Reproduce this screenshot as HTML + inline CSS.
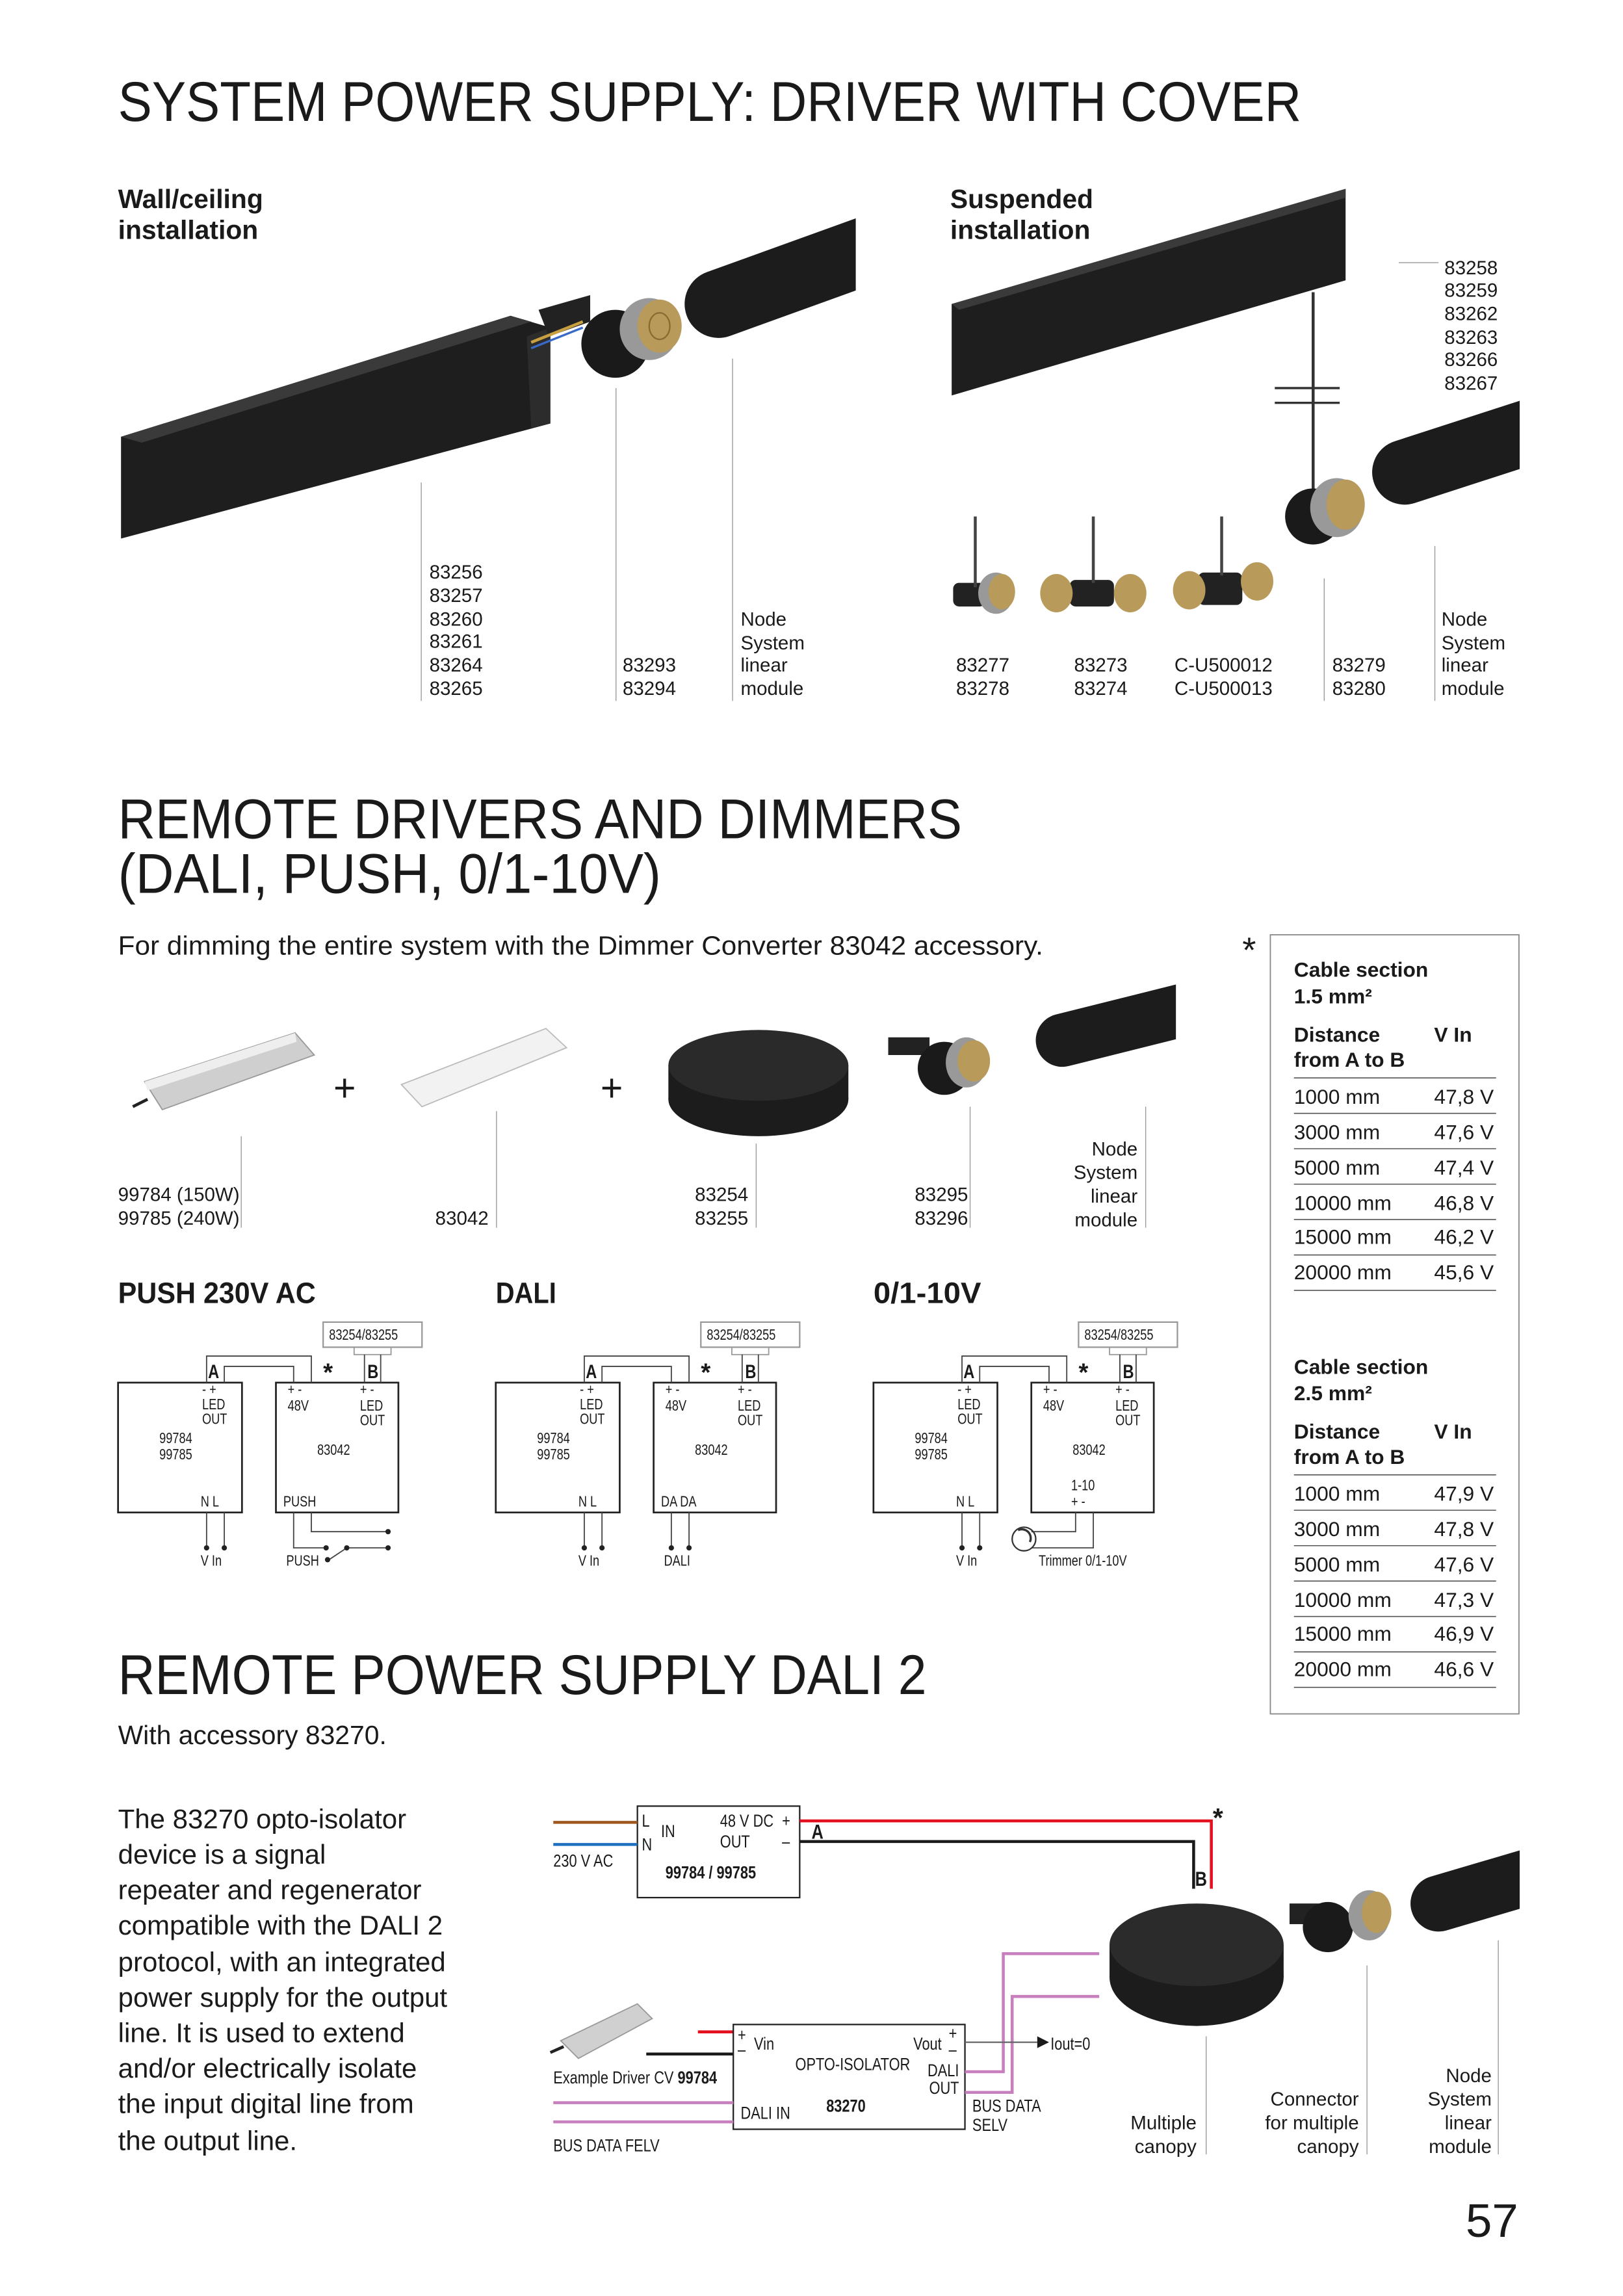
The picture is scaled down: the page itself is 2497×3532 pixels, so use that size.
<!DOCTYPE html>
<html><head><meta charset="utf-8"><style>
html,body{margin:0;padding:0;background:#fff;}
svg{display:block;}
text{font-family:"Liberation Sans",sans-serif;fill:#1a1a1a;}
.n text, text.n{transform-box:fill-box;transform-origin:0 0;transform:scaleX(.8);}
.n text.ne{transform-origin:100% 0;}
</style></head><body>
<svg width="2497" height="3532" viewBox="0 0 1100 1556" xmlns="http://www.w3.org/2000/svg">
<defs>
<clipPath id="c1"><rect x="0" y="0" width="580" height="600"/></clipPath>
<clipPath id="c2"><rect x="0" y="0" width="1030" height="600"/></clipPath>
<clipPath id="c3"><rect x="0" y="600" width="797" height="200"/></clipPath>
<clipPath id="c4"><rect x="0" y="1200" width="1030" height="200"/></clipPath>
</defs>

<!-- Section 1 -->
<text x="80" y="82" font-size="38" textLength="802" lengthAdjust="spacingAndGlyphs">SYSTEM POWER SUPPLY: DRIVER WITH COVER</text>
<text x="80" y="141" font-size="18" font-weight="bold">Wall/ceiling</text>
<text x="80" y="162" font-size="18" font-weight="bold">installation</text>
<text x="644" y="141" font-size="18" font-weight="bold">Suspended</text>
<text x="644" y="162" font-size="18" font-weight="bold">installation</text>

<!-- left beam -->
<polygon points="82,296 346,214 373,222 373,287 82,365" fill="#1e1e1e"/>
<polygon points="82,296 346,214 360,218 96,300" fill="#3a3a3a"/>
<polygon points="357,228 373,222 373,287 360,290" fill="#2c2c2c"/>
<polygon points="365,210 400,200 400,218 372,228" fill="#222"/>
<path d="M360,232 L395,218" stroke="#c8a040" stroke-width="2"/>
<path d="M360,236 L395,222" stroke="#3a6ac8" stroke-width="1.5"/>
<circle cx="417" cy="233" r="23" fill="#1a1a1a"/>
<ellipse cx="440" cy="223" rx="20" ry="21" fill="#999"/>
<ellipse cx="447" cy="221" rx="15" ry="18" fill="#b89a5a"/>
<ellipse cx="447" cy="221" rx="7" ry="9" fill="none" stroke="#8a6a30" stroke-width="1"/>
<g clip-path="url(#c1)"><line x1="487" y1="206" x2="620" y2="158" stroke="#1c1c1c" stroke-width="46" stroke-linecap="round"/></g>
<line x1="285.5" y1="327" x2="285.5" y2="475" stroke="#999" stroke-width="0.6"/>
<line x1="417.5" y1="263" x2="417.5" y2="475" stroke="#999" stroke-width="0.6"/>
<line x1="496.5" y1="243" x2="496.5" y2="475" stroke="#999" stroke-width="0.6"/>
<g font-size="13">
<text x="291" y="392">83256</text><text x="291" y="408">83257</text><text x="291" y="424">83260</text><text x="291" y="439">83261</text><text x="291" y="455">83264</text><text x="291" y="471">83265</text>
<text x="422" y="455">83293</text><text x="422" y="471">83294</text>
<text x="502" y="424">Node</text><text x="502" y="440">System</text><text x="502" y="455">linear</text><text x="502" y="471">module</text>
</g>

<!-- right beam -->
<polygon points="645,206 912,128 912,190 645,268" fill="#1e1e1e"/>
<polygon points="645,206 905,130 912,128 912,134 650,210" fill="#3a3a3a"/>
<line x1="890" y1="198" x2="890" y2="335" stroke="#333" stroke-width="2"/>
<line x1="864" y1="263" x2="908" y2="263" stroke="#333" stroke-width="1.5"/>
<line x1="864" y1="273" x2="908" y2="273" stroke="#333" stroke-width="1.5"/>
<circle cx="890" cy="350" r="19" fill="#1a1a1a"/>
<ellipse cx="906" cy="344" rx="18" ry="20" fill="#999"/>
<ellipse cx="912" cy="342" rx="13" ry="17" fill="#b89a5a"/>
<g clip-path="url(#c2)"><line x1="952" y1="320" x2="1060" y2="285" stroke="#1c1c1c" stroke-width="44" stroke-linecap="round"/></g>
<!-- small nodes -->
<g>
<rect x="646" y="395" width="22" height="16" rx="4" fill="#222"/>
<line x1="661" y1="350" x2="661" y2="398" stroke="#444" stroke-width="2"/>
<ellipse cx="675" cy="402" rx="12" ry="14" fill="#999"/><ellipse cx="679" cy="401" rx="9" ry="12" fill="#b89a5a"/>
<rect x="725" y="393" width="30" height="18" rx="4" fill="#222"/>
<line x1="741" y1="350" x2="741" y2="395" stroke="#444" stroke-width="2"/>
<ellipse cx="716" cy="402" rx="11" ry="13" fill="#b89a5a"/><ellipse cx="766" cy="402" rx="11" ry="13" fill="#b89a5a"/>
<rect x="812" y="388" width="30" height="22" rx="4" fill="#222"/>
<line x1="828" y1="350" x2="828" y2="390" stroke="#444" stroke-width="2"/>
<ellipse cx="806" cy="400" rx="11" ry="13" fill="#b89a5a"/><ellipse cx="852" cy="394" rx="11" ry="13" fill="#b89a5a"/>
</g>
<line x1="948" y1="178" x2="975" y2="178" stroke="#999" stroke-width="0.6"/>
<line x1="897.5" y1="392" x2="897.5" y2="475" stroke="#999" stroke-width="0.6"/>
<line x1="972.5" y1="370" x2="972.5" y2="475" stroke="#999" stroke-width="0.6"/>
<g font-size="13">
<text x="979" y="186">83258</text><text x="979" y="201">83259</text><text x="979" y="217">83262</text><text x="979" y="233">83263</text><text x="979" y="248">83266</text><text x="979" y="264">83267</text>
<text x="648" y="455">83277</text><text x="648" y="471">83278</text>
<text x="728" y="455">83273</text><text x="728" y="471">83274</text>
<text x="796" y="455">C-U500012</text><text x="796" y="471">C-U500013</text>
<text x="903" y="455">83279</text><text x="903" y="471">83280</text>
<text x="977" y="424">Node</text><text x="977" y="440">System</text><text x="977" y="455">linear</text><text x="977" y="471">module</text>
</g>

<!-- Section 2 -->
<text x="80" y="568" font-size="38" textLength="572" lengthAdjust="spacingAndGlyphs">REMOTE DRIVERS AND DIMMERS</text>
<text x="80" y="605" font-size="38" textLength="368" lengthAdjust="spacingAndGlyphs">(DALI, PUSH, 0/1-10V)</text>
<text x="80" y="647" font-size="18" textLength="627" lengthAdjust="spacingAndGlyphs">For dimming the entire system with the Dimmer Converter 83042 accessory.</text>
<text x="842" y="652" font-size="24">*</text>

<!-- table -->
<rect x="861" y="633.5" width="168.5" height="528" fill="none" stroke="#888" stroke-width="0.8"/>
<g font-size="14">
<text x="877" y="662" font-weight="bold">Cable section</text>
<text x="877" y="680" font-weight="bold">1.5 mm²</text>
<text x="877" y="706" font-weight="bold">Distance</text>
<text x="877" y="723" font-weight="bold">from A to B</text>
<text x="972" y="706" font-weight="bold">V In</text>
<text x="877" y="748">1000 mm</text><text x="972" y="748">47,8 V</text>
<text x="877" y="772">3000 mm</text><text x="972" y="772">47,6 V</text>
<text x="877" y="796">5000 mm</text><text x="972" y="796">47,4 V</text>
<text x="877" y="820">10000 mm</text><text x="972" y="820">46,8 V</text>
<text x="877" y="843">15000 mm</text><text x="972" y="843">46,2 V</text>
<text x="877" y="867">20000 mm</text><text x="972" y="867">45,6 V</text>
<text x="877" y="931" font-weight="bold">Cable section</text>
<text x="877" y="949" font-weight="bold">2.5 mm²</text>
<text x="877" y="975" font-weight="bold">Distance</text>
<text x="877" y="992" font-weight="bold">from A to B</text>
<text x="972" y="975" font-weight="bold">V In</text>
<text x="877" y="1017">1000 mm</text><text x="972" y="1017">47,9 V</text>
<text x="877" y="1041">3000 mm</text><text x="972" y="1041">47,8 V</text>
<text x="877" y="1065">5000 mm</text><text x="972" y="1065">47,6 V</text>
<text x="877" y="1089">10000 mm</text><text x="972" y="1089">47,3 V</text>
<text x="877" y="1112">15000 mm</text><text x="972" y="1112">46,9 V</text>
<text x="877" y="1136">20000 mm</text><text x="972" y="1136">46,6 V</text>
</g>
<g stroke="#555" stroke-width="0.7">
<line x1="877" y1="730.5" x2="1014" y2="730.5"/><line x1="877" y1="754.5" x2="1014" y2="754.5"/><line x1="877" y1="778.5" x2="1014" y2="778.5"/><line x1="877" y1="802.5" x2="1014" y2="802.5"/><line x1="877" y1="826.5" x2="1014" y2="826.5"/><line x1="877" y1="850.5" x2="1014" y2="850.5"/><line x1="877" y1="874.5" x2="1014" y2="874.5"/>
<line x1="877" y1="999.5" x2="1014" y2="999.5"/><line x1="877" y1="1023.5" x2="1014" y2="1023.5"/><line x1="877" y1="1047.5" x2="1014" y2="1047.5"/><line x1="877" y1="1071.5" x2="1014" y2="1071.5"/><line x1="877" y1="1095.5" x2="1014" y2="1095.5"/><line x1="877" y1="1119.5" x2="1014" y2="1119.5"/><line x1="877" y1="1143.5" x2="1014" y2="1143.5"/>
</g>

<!-- products -->
<polygon points="98,733 200,700 213,715 110,752" fill="#cfcfcf" stroke="#999" stroke-width="0.8"/>
<polygon points="98,733 200,700 201,706 100,739" fill="#eee"/>
<line x1="90" y1="750" x2="100" y2="745" stroke="#222" stroke-width="2"/>
<text x="226" y="746" font-size="26">+</text>
<polygon points="272,735 370,697 384,710 286,750" fill="#f2f2f2" stroke="#bbb" stroke-width="0.8"/>
<text x="407" y="746" font-size="26">+</text>
<ellipse cx="514" cy="745" rx="61" ry="25" fill="#1c1c1c"/>
<rect x="453" y="722" width="122" height="23" fill="#1c1c1c"/>
<ellipse cx="514" cy="722" rx="61" ry="24" fill="#2a2a2a"/>
<rect x="602" y="703" width="28" height="12" fill="#222"/>
<circle cx="640" cy="724" r="18" fill="#1a1a1a"/>
<ellipse cx="655" cy="720" rx="14" ry="17" fill="#999"/><ellipse cx="660" cy="719" rx="11" ry="14" fill="#b89a5a"/>
<g clip-path="url(#c3)"><line x1="720" y1="705" x2="820" y2="680" stroke="#1c1c1c" stroke-width="36" stroke-linecap="round"/></g>
<g stroke="#999" stroke-width="0.6">
<line x1="163.5" y1="770" x2="163.5" y2="832"/><line x1="336.5" y1="753" x2="336.5" y2="832"/><line x1="512.5" y1="775" x2="512.5" y2="832"/><line x1="657.5" y1="750" x2="657.5" y2="832"/><line x1="776.5" y1="750" x2="776.5" y2="832"/>
</g>
<g font-size="13">
<text x="80" y="814">99784 (150W)</text><text x="80" y="830">99785 (240W)</text>
<text x="295" y="830">83042</text>
<text x="471" y="814">83254</text><text x="471" y="830">83255</text>
<text x="620" y="814">83295</text><text x="620" y="830">83296</text>
<g text-anchor="end"><text x="771" y="783">Node</text><text x="771" y="799">System</text><text x="771" y="815">linear</text><text x="771" y="831">module</text></g>
</g>

<g font-size="20" font-weight="bold">
<text x="80" y="883" textLength="134" lengthAdjust="spacingAndGlyphs">PUSH 230V AC</text>
<text x="336" y="883" textLength="41" lengthAdjust="spacingAndGlyphs">DALI</text>
<text x="592" y="883" textLength="73" lengthAdjust="spacingAndGlyphs">0/1-10V</text>
</g>

<!-- schematic template -->
<g id="sch">
<rect x="80" y="937" width="84" height="88" fill="none" stroke="#222" stroke-width="1.2"/>
<rect x="187" y="937" width="83" height="88" fill="none" stroke="#222" stroke-width="1.2"/>
<rect x="219" y="896" width="67" height="17" fill="none" stroke="#999" stroke-width="1"/>
<rect x="240" y="913" width="25" height="5" fill="none" stroke="#999" stroke-width="0.8"/>
<g fill="none" stroke="#444" stroke-width="0.8">
<polyline points="140,937 140,919 211,919 211,937"/>
<polyline points="152,937 152,926 199,926 199,937"/>
<line x1="247" y1="918" x2="247" y2="937"/><line x1="258" y1="918" x2="258" y2="937"/>
<line x1="140" y1="1025" x2="140" y2="1049"/><line x1="152" y1="1025" x2="152" y2="1049"/>
</g>
<circle cx="140" cy="1049" r="1.8" fill="#222"/><circle cx="152" cy="1049" r="1.8" fill="#222"/>
<g class="n">
<text x="141" y="934" font-size="13" font-weight="bold">A</text>
<text x="249" y="934" font-size="13" font-weight="bold">B</text>
</g>
<text x="219" y="936" font-size="17" font-weight="bold">*</text>
<g font-size="10" class="n">
<text x="223" y="908">83254/83255</text>
<text x="137" y="945">- +</text><text x="137" y="955">LED</text><text x="137" y="965">OUT</text>
<text x="108" y="978">99784</text><text x="108" y="989">99785</text>
<text x="136" y="1021">N  L</text>
<text x="195" y="945">+ -</text><text x="195" y="956">48V</text>
<text x="244" y="945">+ -</text><text x="244" y="956">LED</text><text x="244" y="966">OUT</text>
<text x="215" y="986">83042</text>
<text x="136" y="1061">V  In</text>
</g>
</g>
<use href="#sch" transform="translate(256,0)"/>
<use href="#sch" transform="translate(512,0)"/>
<!-- PUSH specifics -->
<g fill="none" stroke="#444" stroke-width="0.8">
<polyline points="199,1025 199,1049 221,1049"/>
<polyline points="211,1025 211,1038 263,1038"/>
<line x1="235" y1="1049" x2="263" y2="1049"/>
<line x1="223" y1="1057" x2="235" y2="1049"/>
</g>
<circle cx="221" cy="1049" r="1.8" fill="#222"/><circle cx="235" cy="1049" r="1.8" fill="#222"/><circle cx="263" cy="1049" r="1.8" fill="#222"/><circle cx="263" cy="1038" r="1.8" fill="#222"/><circle cx="222" cy="1057" r="1.8" fill="#222"/>
<g class="n" font-size="10">
<text x="192" y="1021">PUSH</text>
<text x="194" y="1061">PUSH</text>
<text x="448" y="1021">DA DA</text>
<text x="450" y="1061">DALI</text>
<text x="726" y="1010">1-10</text>
<text x="726" y="1021">+  -</text>
<text x="704" y="1061">Trimmer 0/1-10V</text>
</g>
<!-- DALI specifics -->
<g fill="none" stroke="#444" stroke-width="0.8"><line x1="455" y1="1025" x2="455" y2="1049"/><line x1="467" y1="1025" x2="467" y2="1049"/></g>
<circle cx="455" cy="1049" r="1.8" fill="#222"/><circle cx="467" cy="1049" r="1.8" fill="#222"/>
<!-- 0-10 specifics -->
<g fill="none" stroke="#444" stroke-width="0.8"><polyline points="729,1025 729,1038 699,1038"/><polyline points="741,1025 741,1049 699,1049"/></g>
<circle cx="694" cy="1043" r="8" fill="none" stroke="#333" stroke-width="1"/>
<path d="M690,1037 A6,6 0 0 1 698,1045" fill="none" stroke="#333" stroke-width="1.5"/>

<!-- Section 3 -->
<text x="80" y="1148" font-size="38" textLength="548" lengthAdjust="spacingAndGlyphs">REMOTE POWER SUPPLY DALI 2</text>
<text x="80" y="1182" font-size="18">With accessory 83270.</text>
<g font-size="18.5">
<text x="80" y="1239">The 83270 opto-isolator</text>
<text x="80" y="1263">device is a signal</text>
<text x="80" y="1287">repeater and regenerator</text>
<text x="80" y="1311">compatible with the DALI 2</text>
<text x="80" y="1336">protocol, with an integrated</text>
<text x="80" y="1360">power supply for the output</text>
<text x="80" y="1384">line. It is used to extend</text>
<text x="80" y="1408">and/or electrically isolate</text>
<text x="80" y="1432">the input digital line from</text>
<text x="80" y="1457">the output line.</text>
</g>

<!-- PSU -->
<rect x="432" y="1224" width="110" height="62" fill="none" stroke="#222" stroke-width="1"/>
<line x1="375" y1="1235" x2="432" y2="1235" stroke="#a0571d" stroke-width="2"/>
<line x1="375" y1="1250" x2="432" y2="1250" stroke="#1e6fc0" stroke-width="2"/>
<polyline points="542,1234 821,1234 821,1280" fill="none" stroke="#e3101f" stroke-width="2"/>
<polyline points="542,1248 809,1248 809,1280" fill="none" stroke="#1a1a1a" stroke-width="2"/>
<g font-size="12" class="n">
<text x="375" y="1265">230 V AC</text>
<text x="435" y="1238">L</text><text x="435" y="1254">N</text><text x="448" y="1245">IN</text>
<text x="488" y="1238">48 V DC</text><text x="530" y="1238">+</text>
<text x="488" y="1252">OUT</text><text x="530" y="1252">–</text>
<text x="451" y="1273" font-weight="bold">99784 / 99785</text>
<text x="550" y="1246" font-size="14" font-weight="bold">A</text>
<text x="810" y="1278" font-size="14" font-weight="bold">B</text>
</g>
<text x="822" y="1238" font-size="18" font-weight="bold">*</text>

<!-- driver image -->
<polygon points="380,1383 432,1358 442,1368 392,1395" fill="#d0d0d0" stroke="#999" stroke-width="0.8"/>
<line x1="373" y1="1391" x2="382" y2="1387" stroke="#222" stroke-width="2"/>
<line x1="473" y1="1377" x2="497" y2="1377" stroke="#e3101f" stroke-width="2"/>
<line x1="438" y1="1392" x2="497" y2="1392" stroke="#1a1a1a" stroke-width="2"/>

<!-- opto -->
<rect x="497" y="1372" width="157" height="71" fill="none" stroke="#222" stroke-width="1"/>
<g stroke="#c77fbd" stroke-width="2" fill="none">
<line x1="375" y1="1425" x2="497" y2="1425"/><line x1="375" y1="1438" x2="497" y2="1438"/>
<polyline points="654,1404 680,1404 680,1324 745,1324"/>
<polyline points="654,1418 686,1418 686,1353 745,1353"/>
</g>
<line x1="654" y1="1384" x2="703" y2="1384" stroke="#666" stroke-width="1"/>
<polygon points="703,1380 711,1384 703,1388" fill="#1a1a1a"/>
<g font-size="12" class="n">
<text x="500" y="1383">+</text><text x="500" y="1393">–</text><text x="511" y="1389">Vin</text>
<text x="619" y="1389">Vout</text><text x="643" y="1382">+</text><text x="643" y="1393">–</text>
<text x="539" y="1403">OPTO-ISOLATOR</text>
<text x="650" y="1407" text-anchor="end" class="ne">DALI</text><text x="650" y="1419" text-anchor="end" class="ne">OUT</text>
<text x="502" y="1436">DALI IN</text>
<text x="560" y="1431" font-weight="bold">83270</text>
<text x="712" y="1389">Iout=0</text>
<text x="659" y="1431">BUS DATA</text><text x="659" y="1444">SELV</text>
<text x="375" y="1412">Example Driver CV <tspan font-weight="bold">99784</tspan></text>
<text x="375" y="1458">BUS DATA FELV</text>
</g>

<!-- canopy etc -->
<ellipse cx="811" cy="1340" rx="59" ry="33" fill="#1c1c1c"/>
<rect x="752" y="1318" width="118" height="22" fill="#1c1c1c"/>
<ellipse cx="811" cy="1318" rx="59" ry="28" fill="#2b2b2b"/>
<rect x="874" y="1290" width="26" height="14" fill="#222"/>
<circle cx="900" cy="1306" r="17" fill="#1a1a1a"/>
<ellipse cx="928" cy="1298" rx="14" ry="17" fill="#999"/><ellipse cx="933" cy="1296" rx="10" ry="14" fill="#b89a5a"/>
<g clip-path="url(#c4)"><line x1="975" y1="1290" x2="1060" y2="1265" stroke="#1c1c1c" stroke-width="38" stroke-linecap="round"/></g>
<g stroke="#999" stroke-width="0.6">
<line x1="817.5" y1="1380" x2="817.5" y2="1460"/><line x1="926.5" y1="1332" x2="926.5" y2="1460"/><line x1="1015.5" y1="1315" x2="1015.5" y2="1460"/>
</g>
<g font-size="13" text-anchor="end">
<text x="811" y="1443">Multiple</text><text x="811" y="1459">canopy</text>
<text x="921" y="1427">Connector</text><text x="921" y="1443">for multiple</text><text x="921" y="1459">canopy</text>
<text x="1011" y="1411">Node</text><text x="1011" y="1427">System</text><text x="1011" y="1443">linear</text><text x="1011" y="1459">module</text>
</g>
<text x="1029" y="1516" font-size="32" text-anchor="end">57</text>
</svg>
</body></html>
